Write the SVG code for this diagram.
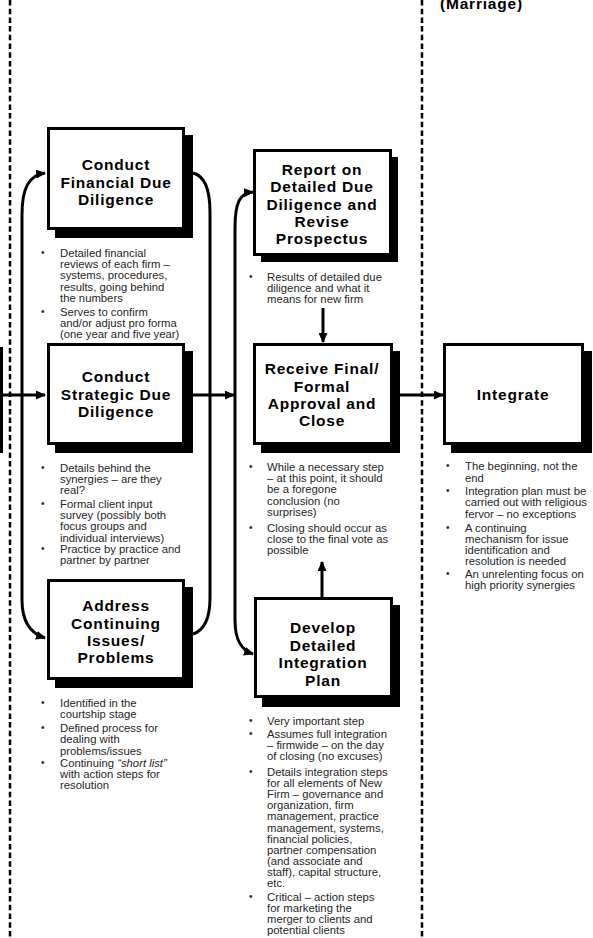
<svg xmlns="http://www.w3.org/2000/svg" width="593" height="938" viewBox="0 0 593 938">
<style>
.bg{fill:#fff}
.sh{fill:#000}
.bx{fill:#fff;stroke:#000;stroke-width:3}
.tt{font-family:"Liberation Sans",Arial,sans-serif;font-weight:bold;font-size:15.5px;letter-spacing:0.8px;fill:#000;text-anchor:middle}
.bl{font-family:"Liberation Sans",Arial,sans-serif;font-size:11.3px;fill:#262626}
.bu{font-family:"Liberation Sans",Arial,sans-serif;font-size:10px;fill:#262626}
.dash{stroke:#000;stroke-width:2.5;stroke-dasharray:5.5 3.2;fill:none}
.ln{stroke:#000;stroke-width:3;fill:none}
.ar{stroke:#000;stroke-width:3;fill:none;marker-end:url(#ah)}
</style>
<defs>
<marker id="ah" markerUnits="userSpaceOnUse" markerWidth="10" markerHeight="9" refX="9" refY="4.5" orient="auto">
<path d="M0,0 L10,4.5 L0,9 z" fill="#000"/>
</marker>
</defs>
<rect class="bg" x="0" y="0" width="593" height="938"/>

<g id="dividers">
<line class="dash" x1="10" y1="0" x2="10" y2="938"/>
<line class="dash" x1="422" y1="0" x2="422" y2="938"/>
<rect x="0" y="347" width="3" height="106" fill="#000"/>
</g>

<g id="stage-label">
<text x="440" y="9" style="font-family:'Liberation Sans',Arial,sans-serif;font-weight:bold;font-size:15.5px;letter-spacing:0.8px;fill:#000">(Marriage)</text>
</g>

<g id="connectors">
<path class="ar" d="M0,395 L45,395"/>
<path class="ar" d="M22,395 L22,215 C22,188 29,175 45,173"/>
<path class="ar" d="M22,395 L22,600 C22,620 29,633 45,638"/>
<path class="ln" d="M193,173 C205,176 210,190 210,212 L210,598 C210,618 205,630 193,634"/>
<path class="ar" d="M193,395 L234,395"/>
<path class="ar" d="M235,395 L235,228 C235,202 240,193 253,192"/>
<path class="ar" d="M235,395 L235,620 C235,640 241,650 253,654"/>
<path class="ar" d="M323,308 L323,342"/>
<path class="ar" d="M322,598 L322,562"/>
<path class="ar" d="M400,395 L443,395"/>
</g>

<g id="financial">
<rect class="sh" x="55" y="135" width="138" height="103"/>
<rect class="bx" x="48.5" y="128.5" width="135" height="100"/>
<text class="tt" x="116" y="170">Conduct</text>
<text class="tt" x="116" y="188">Financial Due</text>
<text class="tt" x="116" y="205">Diligence</text>
<text class="bu" x="41" y="256">•</text>
<text class="bl" x="60" y="257">Detailed financial</text>
<text class="bl" x="60" y="268.2">reviews of each firm –</text>
<text class="bl" x="60" y="279.4">systems, procedures,</text>
<text class="bl" x="60" y="290.6">results, going behind</text>
<text class="bl" x="60" y="301.8">the numbers</text>
<text class="bu" x="41" y="315">•</text>
<text class="bl" x="60" y="316">Serves to confirm</text>
<text class="bl" x="60" y="327.2">and/or adjust pro forma</text>
<text class="bl" x="60" y="338.4">(one year and five year)</text>
</g>

<g id="strategic">
<rect class="sh" x="55" y="351" width="138" height="102"/>
<rect class="bx" x="48.5" y="344.5" width="135" height="99"/>
<text class="tt" x="116" y="382">Conduct</text>
<text class="tt" x="116" y="400">Strategic Due</text>
<text class="tt" x="116" y="417">Diligence</text>
<text class="bu" x="41" y="471">•</text>
<text class="bl" x="60" y="472">Details behind the</text>
<text class="bl" x="60" y="483.2">synergies – are they</text>
<text class="bl" x="60" y="494.4">real?</text>
<text class="bu" x="41" y="507">•</text>
<text class="bl" x="60" y="508">Formal client input</text>
<text class="bl" x="60" y="519.2">survey (possibly both</text>
<text class="bl" x="60" y="530.4">focus groups and</text>
<text class="bl" x="60" y="541.6">individual interviews)</text>
<text class="bu" x="41" y="552">•</text>
<text class="bl" x="60" y="553">Practice by practice and</text>
<text class="bl" x="60" y="564.2">partner by partner</text>
</g>

<g id="issues">
<rect class="sh" x="55" y="587" width="138" height="101"/>
<rect class="bx" x="48.5" y="580.5" width="135" height="98"/>
<text class="tt" x="116" y="611">Address</text>
<text class="tt" x="116" y="629">Continuing</text>
<text class="tt" x="116" y="646">Issues/</text>
<text class="tt" x="116" y="663">Problems</text>
<text class="bu" x="41" y="706">•</text>
<text class="bl" x="60" y="707">Identified in the</text>
<text class="bl" x="60" y="718.2">courtship stage</text>
<text class="bu" x="41" y="731">•</text>
<text class="bl" x="60" y="732">Defined process for</text>
<text class="bl" x="60" y="743.2">dealing with</text>
<text class="bl" x="60" y="755">problems/issues</text>
<text class="bu" x="41" y="766">•</text>
<text class="bl" x="60" y="767">Continuing <tspan font-style="italic">“short list”</tspan></text>
<text class="bl" x="60" y="778.2">with action steps for</text>
<text class="bl" x="60" y="789.4">resolution</text>
</g>

<g id="report">
<rect class="sh" x="261" y="157" width="137" height="105"/>
<rect class="bx" x="254.5" y="150.5" width="136" height="104"/>
<text class="tt" x="322" y="175">Report on</text>
<text class="tt" x="322" y="192">Detailed Due</text>
<text class="tt" x="322" y="210">Diligence and</text>
<text class="tt" x="322" y="227">Revise</text>
<text class="tt" x="322" y="244">Prospectus</text>
<text class="bu" x="249" y="280">•</text>
<text class="bl" x="267" y="281">Results of detailed due</text>
<text class="bl" x="267" y="292.2">diligence and what it</text>
<text class="bl" x="267" y="303.4">means for new firm</text>
</g>

<g id="close">
<rect class="sh" x="261" y="351" width="139" height="102"/>
<rect class="bx" x="254.5" y="344.5" width="137" height="99"/>
<text class="tt" x="322" y="374">Receive Final/</text>
<text class="tt" x="322" y="392">Formal</text>
<text class="tt" x="322" y="409">Approval and</text>
<text class="tt" x="322" y="426">Close</text>
<text class="bu" x="249" y="470">•</text>
<text class="bl" x="267" y="471">While a necessary step</text>
<text class="bl" x="267" y="482.2">– at this point, it should</text>
<text class="bl" x="267" y="493.4">be a foregone</text>
<text class="bl" x="267" y="504.6">conclusion (no</text>
<text class="bl" x="267" y="515.8">surprises)</text>
<text class="bu" x="249" y="531">•</text>
<text class="bl" x="267" y="532">Closing should occur as</text>
<text class="bl" x="267" y="543.2">close to the final vote as</text>
<text class="bl" x="267" y="554.4">possible</text>
</g>

<g id="plan">
<rect class="sh" x="262" y="605" width="138" height="102"/>
<rect class="bx" x="255.5" y="598.5" width="136" height="98"/>
<text class="tt" x="323" y="633">Develop</text>
<text class="tt" x="323" y="651">Detailed</text>
<text class="tt" x="323" y="668">Integration</text>
<text class="tt" x="323" y="686">Plan</text>
<text class="bu" x="249" y="724">•</text>
<text class="bl" x="267" y="725">Very important step</text>
<text class="bu" x="249" y="737">•</text>
<text class="bl" x="267" y="738">Assumes full integration</text>
<text class="bl" x="267" y="749.2">– firmwide – on the day</text>
<text class="bl" x="267" y="760.4">of closing (no excuses)</text>
<text class="bu" x="249" y="775">•</text>
<text class="bl" x="267" y="776">Details integration steps</text>
<text class="bl" x="267" y="787.1">for all elements of New</text>
<text class="bl" x="267" y="798.2">Firm – governance and</text>
<text class="bl" x="267" y="809.3">organization, firm</text>
<text class="bl" x="267" y="820.4">management, practice</text>
<text class="bl" x="267" y="831.5">management, systems,</text>
<text class="bl" x="267" y="842.6">financial policies,</text>
<text class="bl" x="267" y="853.7">partner compensation</text>
<text class="bl" x="267" y="864.8">(and associate and</text>
<text class="bl" x="267" y="875.9">staff), capital structure,</text>
<text class="bl" x="267" y="887">etc.</text>
<text class="bu" x="249" y="900">•</text>
<text class="bl" x="267" y="901">Critical – action steps</text>
<text class="bl" x="267" y="912.1">for marketing the</text>
<text class="bl" x="267" y="923.2">merger to clients and</text>
<text class="bl" x="267" y="934.3">potential clients</text>
</g>

<g id="integrate">
<rect class="sh" x="451" y="351" width="141" height="102"/>
<rect class="bx" x="444.5" y="344.5" width="138" height="99"/>
<text class="tt" x="513" y="400">Integrate</text>
<text class="bu" x="446" y="469">•</text>
<text class="bl" x="465" y="470">The beginning, not the</text>
<text class="bl" x="465" y="481.5">end</text>
<text class="bu" x="446" y="494">•</text>
<text class="bl" x="465" y="495">Integration plan must be</text>
<text class="bl" x="465" y="506.4">carried out with religious</text>
<text class="bl" x="465" y="517.8">fervor – no exceptions</text>
<text class="bu" x="446" y="531">•</text>
<text class="bl" x="465" y="532">A continuing</text>
<text class="bl" x="465" y="543.1">mechanism for issue</text>
<text class="bl" x="465" y="554.2">identification and</text>
<text class="bl" x="465" y="565.3">resolution is needed</text>
<text class="bu" x="446" y="577">•</text>
<text class="bl" x="465" y="578">An unrelenting focus on</text>
<text class="bl" x="465" y="589.1">high priority synergies</text>
</g>
</svg>
